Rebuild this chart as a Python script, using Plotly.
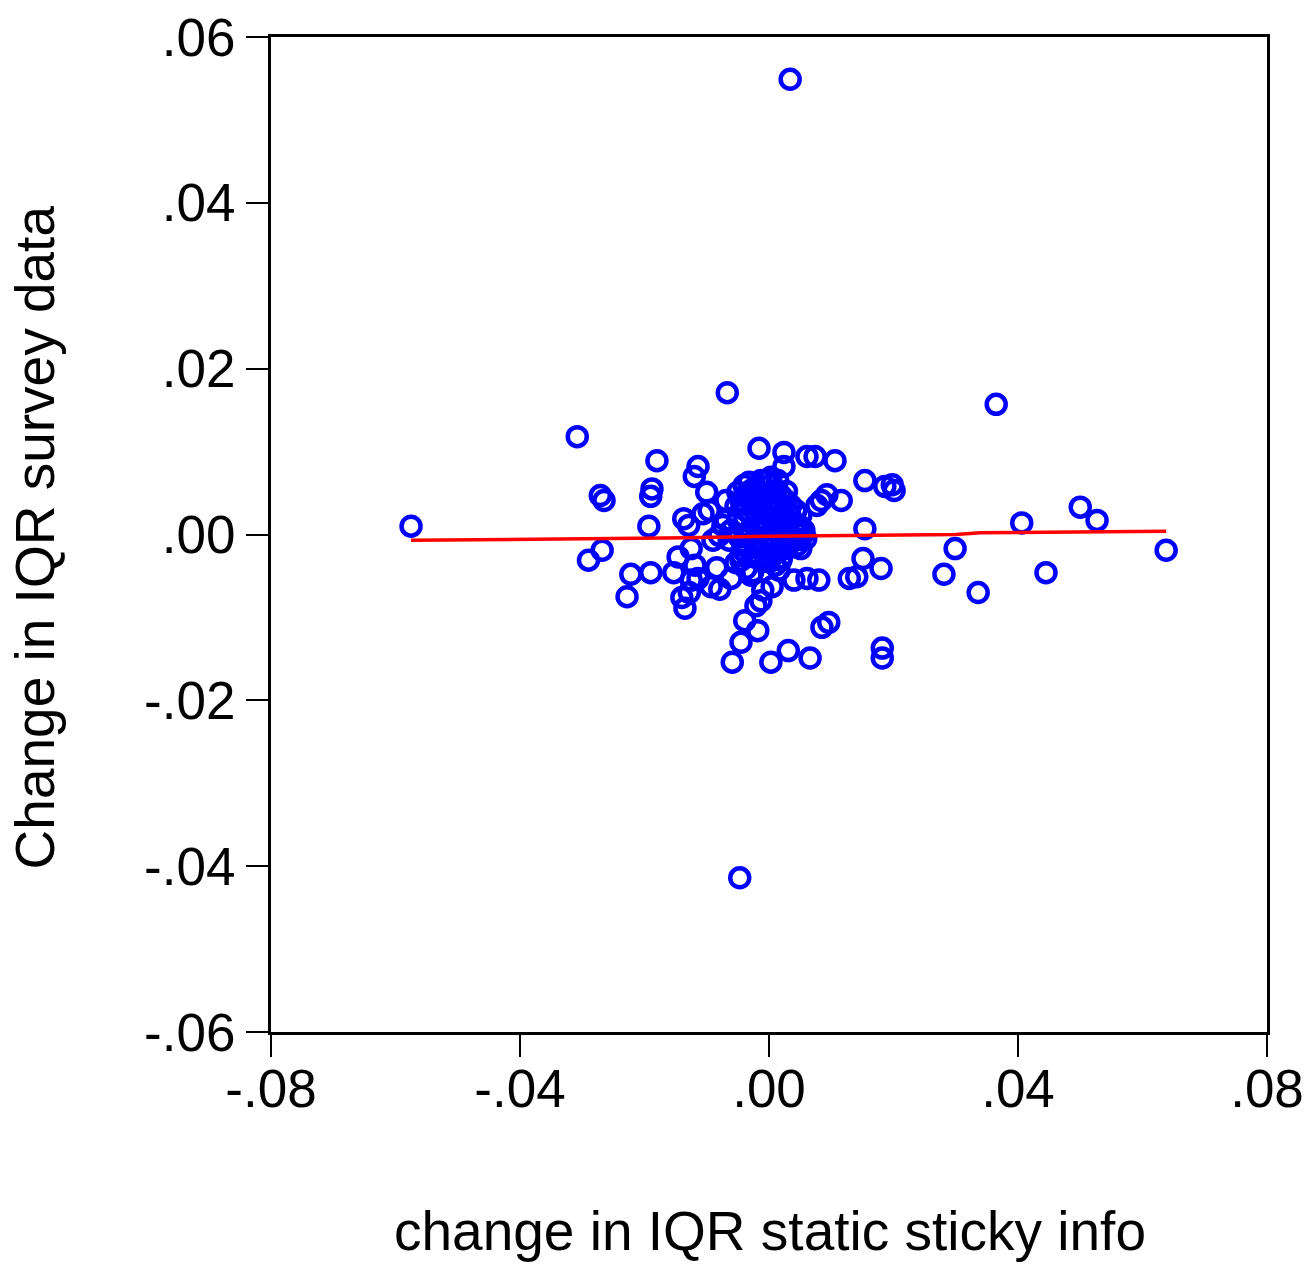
import plotly.graph_objects as go

# pixel-read estimates converted to data units
x_vals = [0.0034, -0.0047, -0.0575, -0.0308, -0.0067, 0.0365, -0.0290, -0.0271, -0.0265, -0.0268,
          -0.0228, -0.0222, -0.0180, -0.0188, -0.0190, -0.0193, -0.0190, -0.0153, -0.0146, -0.0140,
          -0.0135, -0.0137, -0.0129, -0.0120, -0.0114, -0.0100, -0.0125, -0.0119, -0.0125, -0.0114,
          -0.0128, -0.0093, -0.0079, -0.0084, -0.0061, -0.0059, -0.0045, -0.0039, -0.0018, -0.0021,
          -0.0013, -0.0010, 0.0003, 0.0031, 0.0066, 0.0005, 0.0040, 0.0061, 0.0080, 0.0085,
          0.0096, 0.0129, 0.0141, 0.0151, 0.0180, 0.0182, 0.0182, 0.0154, 0.0154, 0.0186,
          0.0198, 0.0201, 0.0116, 0.0093, 0.0084, 0.0077, 0.0106, 0.0061, 0.0074, 0.0024,
          -0.0016, 0.0024, 0.0281, 0.0299, 0.0336, 0.0406, 0.0445, 0.0500, 0.0527, 0.0638,
          -0.0106, -0.0096, -0.0069, -0.0040, -0.0050, 0.0003, 0.0014, -0.0026, -0.0018,
          -0.0053, -0.0045, -0.0037, -0.0029, -0.0021, -0.0013, -0.0005, 0.0003, 0.0011, 0.0019,
          0.0027, 0.0035, 0.0043, 0.0051, -0.0037, -0.0029, -0.0021, -0.0013, -0.0005, 0.0003,
          0.0011, 0.0019, -0.0029, -0.0037, -0.0045, -0.0053, -0.0021, -0.0013, -0.0005, 0.0003,
          -0.0016, -0.0010, 0.0000, 0.0006, 0.0016, 0.0022, 0.0032, 0.0038, 0.0045, 0.0051,
          0.0055, 0.0059, -0.0069, -0.0061, -0.0064, -0.0074, -0.0080, -0.0090, -0.0045, -0.0037,
          -0.0026, -0.0003, 0.0006, 0.0014, 0.0024, 0.0030, 0.0034, 0.0043, 0.0048, 0.0056,
          -0.0010, -0.0003, -0.0018, -0.0032, -0.0042, 0.0010, 0.0019, 0.0029, -0.0029, -0.0042,
          -0.0048, -0.0032, 0.0000, 0.0016,
          -0.0034, -0.0024, -0.0008, 0.0008, 0.0026, 0.0040, -0.0040, -0.0020, 0.0000, 0.0020,
          -0.0050, -0.0030, -0.0010, 0.0012, 0.0030, 0.0046, -0.0026, 0.0004, 0.0028, 0.0050]
y_vals = [0.0549, -0.0414, 0.0010, 0.0118, 0.0171, 0.0157, -0.0031, 0.0047, 0.0041, -0.0019,
          -0.0075, -0.0048, 0.0089, 0.0055, 0.0046, 0.0010, -0.0046, -0.0046, -0.0027, -0.0076,
          -0.0089, 0.0019, 0.0011, 0.0070, 0.0082, 0.0051, -0.0017, -0.0037, -0.0055, -0.0053,
          -0.0070, -0.0063, -0.0066, -0.0040, -0.0053, -0.0154, -0.0130, -0.0104, -0.0116, -0.0086,
          -0.0080, -0.0067, -0.0154, -0.0140, -0.0149, -0.0063, -0.0055, -0.0053, -0.0055, -0.0112,
          -0.0106, -0.0053, -0.0051, -0.0029, -0.0041, -0.0137, -0.0149, 0.0007, 0.0065, 0.0058,
          0.0060, 0.0053, 0.0041, 0.0048, 0.0041, 0.0035, 0.0089, 0.0094, 0.0094, 0.0099,
          0.0104, 0.0082, -0.0048, -0.0017, -0.0070, 0.0014, -0.0046, 0.0033, 0.0017, -0.0019,
          0.0025, 0.0029, 0.0041, 0.0059, 0.0051, 0.0069, 0.0065, 0.0053, 0.0012,
          0.0034, 0.0041, 0.0049, 0.0053, 0.0057, 0.0065, 0.0065, 0.0060, 0.0053, 0.0047,
          0.0041, 0.0035, 0.0029, 0.0023, 0.0029, 0.0023, 0.0017, 0.0011, 0.0005, -0.0001,
          -0.0007, -0.0013, -0.0001, -0.0013, -0.0025, -0.0034, -0.0013, -0.0019, -0.0025, -0.0013,
          0.0035, 0.0029, 0.0023, 0.0017, 0.0011, 0.0005, -0.0001, -0.0007, -0.0013, -0.0017,
          0.0001, -0.0005, 0.0017, 0.0005, -0.0007, 0.0011, -0.0001, -0.0007, -0.0031, -0.0041,
          -0.0045, -0.0031, -0.0025, -0.0021, 0.0011, 0.0005, 0.0023, 0.0029, 0.0011, 0.0005,
          0.0017, -0.0005, 0.0047, 0.0043, 0.0039, -0.0037, -0.0031, -0.0017, -0.0049, -0.0012,
          -0.0003, 0.0063, 0.0036, -0.0043,
          0.0003, -0.0009, 0.0008, -0.0010, -0.0006, 0.0010, -0.0020, -0.0028, -0.0033, -0.0028,
          0.0018, 0.0040, 0.0044, 0.0038, 0.0016, 0.0003, 0.0052, 0.0050, 0.0052, -0.0006]

fit_x = [-0.0575, -0.0180, -0.0130, 0.0000, 0.0300, 0.0340, 0.0638]
fit_y = [-0.0007, -0.0005, -0.0004, -0.0002, 0.0000, 0.0002, 0.0004]

x_ticks = [-0.08, -0.04, 0.0, 0.04, 0.08]
x_labels = ["-.08", "-.04", ".00", ".04", ".08"]
y_ticks = [-0.06, -0.04, -0.02, 0.0, 0.02, 0.04, 0.06]
y_labels = ["-.06", "-.04", "-.02", ".00", ".02", ".04", ".06"]

FONT = "Liberation Sans, Arial"

fig = go.Figure()
fig.add_trace(go.Scatter(
    x=x_vals, y=y_vals, mode="markers",
    marker=dict(symbol="circle-open", size=19, color="#0000ff",
                line=dict(width=4.5, color="#0000ff")),
    showlegend=False))
fig.add_trace(go.Scatter(
    x=fit_x, y=fit_y, mode="lines",
    line=dict(color="#ff0000", width=3.5), showlegend=False))

axis_common = dict(showline=True, linecolor="black", linewidth=3, mirror=True,
                   ticks="outside", ticklen=22, tickwidth=2, tickcolor="black",
                   showgrid=False, zeroline=False, automargin=False,
                   tickfont=dict(family=FONT, size=53, color="black"))

fig.update_xaxes(range=[-0.08, 0.08], tickvals=x_ticks, ticktext=x_labels,
                 ticklabelstandoff=-14, **axis_common)
fig.update_yaxes(range=[-0.06, 0.06], tickvals=y_ticks, ticktext=y_labels,
                 ticklabelstandoff=0, **axis_common)

fig.add_annotation(text="Change in IQR survey data", xref="paper", yref="paper",
                   x=-0.236, y=0.497, xanchor="center", yanchor="middle", textangle=-90,
                   showarrow=False, font=dict(family=FONT, size=55, color="black"))
fig.add_annotation(text="change in IQR static sticky info", xref="paper", yref="paper",
                   x=0.501, y=-0.200, xanchor="center", yanchor="middle",
                   showarrow=False, font=dict(family=FONT, size=55, color="black"))

fig.update_layout(width=1311, height=1266,
                  margin=dict(l=271, r=44, t=37, b=234),
                  plot_bgcolor="white", paper_bgcolor="white")

fig.write_html("out.html")
